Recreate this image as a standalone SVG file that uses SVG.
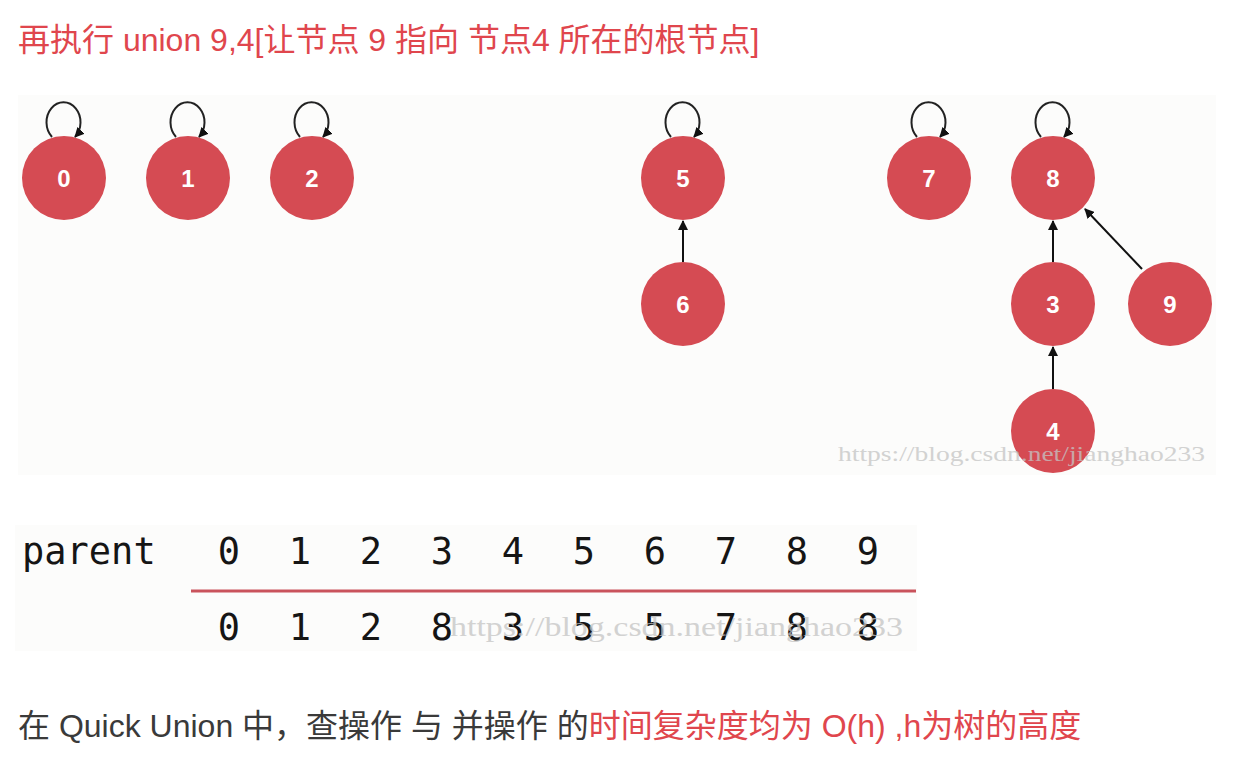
<svg xmlns="http://www.w3.org/2000/svg" width="1236" height="762" viewBox="0 0 1236 762">
<style>
.node circle{fill:#d54b53}
.node text{fill:#fff;font-family:"Liberation Sans",Arial,sans-serif;font-weight:bold;font-size:24px;text-anchor:middle}
.edge{stroke:#111;stroke-width:2;fill:none;marker-end:url(#ah)}
.loop{stroke:#222;stroke-width:2;fill:none;marker-end:url(#ah)}
.cn{font-family:"Liberation Sans","Noto Sans CJK SC",sans-serif;font-size:32px}
.red{fill:#e0464d}
.gray{fill:#3a3a3a}
.mono{font-family:"DejaVu Sans Mono","Liberation Mono",monospace;font-size:37px;fill:#151515;text-anchor:middle}
.wm{font-family:"Liberation Serif","Noto Sans CJK SC",serif;fill:#c4c4c4;opacity:0.75}
</style>
<defs>
<marker id="ah" viewBox="0 0 10 10" refX="9" refY="5" markerWidth="5" markerHeight="5" orient="auto" markerUnits="strokeWidth">
<path d="M0,0 L10,5 L0,10 z" fill="#111"/>
</marker>
</defs>
<rect width="1236" height="762" fill="#fff"/>
<rect x="18" y="95" width="1198" height="380" fill="#fcfcfb"/>
<rect x="15" y="525" width="902" height="126" fill="#fcfcfb"/>

<text class="cn red" x="18" y="51">再执行 union 9,4[让节点 9 指向 节点4 所在的根节点]</text>

<g id="connectors">
<path class="loop" d="M52,137 A17 20 0 1 1 75,137"/>
<path class="loop" d="M176,137 A17 20 0 1 1 199,137"/>
<path class="loop" d="M300,137 A17 20 0 1 1 323,137"/>
<path class="loop" d="M671,137 A17 20 0 1 1 694,137"/>
<path class="loop" d="M917,137 A17 20 0 1 1 940,137"/>
<path class="loop" d="M1041,137 A17 20 0 1 1 1064,137"/>
<line class="edge" x1="683" y1="262" x2="683" y2="221"/>
<line class="edge" x1="1053" y1="262" x2="1053" y2="221"/>
<line class="edge" x1="1053" y1="389" x2="1053" y2="347"/>
<line class="edge" x1="1142" y1="269" x2="1085" y2="209"/>
</g>

<g id="node-0" class="node"><circle cx="64" cy="178" r="42"/><text x="64" y="187">0</text></g>
<g id="node-1" class="node"><circle cx="188" cy="178" r="42"/><text x="188" y="187">1</text></g>
<g id="node-2" class="node"><circle cx="312" cy="178" r="42"/><text x="312" y="187">2</text></g>
<g id="node-5" class="node"><circle cx="683" cy="178" r="42"/><text x="683" y="187">5</text></g>
<g id="node-6" class="node"><circle cx="683" cy="304" r="42"/><text x="683" y="313">6</text></g>
<g id="node-7" class="node"><circle cx="929" cy="178" r="42"/><text x="929" y="187">7</text></g>
<g id="node-8" class="node"><circle cx="1053" cy="178" r="42"/><text x="1053" y="187">8</text></g>
<g id="node-3" class="node"><circle cx="1053" cy="304" r="42"/><text x="1053" y="313">3</text></g>
<g id="node-9" class="node"><circle cx="1170" cy="304" r="42"/><text x="1170" y="313">9</text></g>
<g id="node-4" class="node"><circle cx="1053" cy="431" r="42"/><text x="1053" y="440">4</text></g>

<text class="wm" x="838" y="461" font-size="22" textLength="367" lengthAdjust="spacingAndGlyphs">https://blog.csdn.net/jianghao233</text>

<g id="parent-table">
<text class="mono" x="22" y="564" style="text-anchor:start">parent</text>
<g class="mono">
<text x="229" y="564">0</text><text x="300" y="564">1</text><text x="371" y="564">2</text><text x="442" y="564">3</text><text x="513" y="564">4</text><text x="584" y="564">5</text><text x="655" y="564">6</text><text x="726" y="564">7</text><text x="797" y="564">8</text><text x="868" y="564">9</text>
</g>
<line x1="191" y1="591" x2="916" y2="591" stroke="#c9535c" stroke-width="3"/>
<g class="mono">
<text x="229" y="640">0</text><text x="300" y="640">1</text><text x="371" y="640">2</text><text x="442" y="640">8</text><text x="513" y="640">3</text><text x="584" y="640">5</text><text x="655" y="640">5</text><text x="726" y="640">7</text><text x="797" y="640">8</text><text x="868" y="640">8</text>
</g>
<text class="wm" x="450" y="636" font-size="27" textLength="453" lengthAdjust="spacingAndGlyphs">https://blog.csdn.net/jianghao233</text>
</g>

<text class="cn" x="18" y="737"><tspan class="gray">在 Quick Union 中，查操作 与 并操作 的</tspan><tspan class="red">时间复杂度均为 O(h) ,h为树的高度</tspan></text>
</svg>
